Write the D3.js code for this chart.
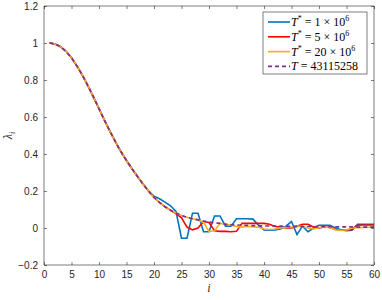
<html>
<script src='https://d3js.org/d3.v7.min.js'></script>
<style>
  body { margin: 0; background: #fff; }
  text { font-family: 'Liberation Sans', Arial, sans-serif; }
</style>
<body onload='init()'>
<svg width=382 height=300></svg>
<script>
// index i = 1..60
const idx = d3.range(1, 61);

// common decay part (T = 43115258, dashed)
const lamRef = [1.000,0.995,0.980,0.955,0.920,0.875,0.825,0.768,0.708,0.645,
  0.582,0.522,0.465,0.412,0.365,0.320,0.278,0.238,0.200,0.165,
  0.138,0.115,0.096,0.081,0.068,0.058,0.050,0.044,0.038,0.032,
  0.028,0.025,0.021,0.018,0.016,0.015,0.014,0.013,0.012,0.011,
  0.011,0.010,0.010,0.009,0.009,0.009,0.008,0.008,0.008,0.007,
  0.007,0.007,0.006,0.006,0.006,0.006,0.005,0.005,0.005,0.005];

const lam1 = [1.000,0.995,0.980,0.955,0.920,0.875,0.825,0.768,0.708,0.645,
  0.582,0.522,0.465,0.412,0.365,0.320,0.278,0.238,0.200,0.172,
  0.158,0.140,0.120,0.090,-0.055,-0.055,0.080,0.080,-0.020,-0.020,
  0.065,0.065,0.010,0.010,0.050,0.050,0.050,0.048,0.015,-0.010,
  -0.012,-0.010,-0.005,0.010,0.035,-0.035,0.010,-0.020,0.000,0.015,
  0.015,0.015,0.000,-0.010,-0.015,-0.012,0.020,0.020,0.020,0.020];

const lam5 = [1.000,0.995,0.980,0.955,0.920,0.875,0.825,0.768,0.708,0.645,
  0.582,0.522,0.465,0.412,0.365,0.320,0.278,0.238,0.200,0.165,
  0.138,0.115,0.096,0.078,0.055,0.005,-0.010,0.000,0.035,0.030,
  -0.015,-0.018,-0.018,-0.020,-0.018,0.025,0.025,0.025,0.025,0.025,
  0.020,0.008,0.005,0.000,0.000,0.010,0.020,0.020,0.005,0.000,
  0.005,0.003,-0.008,-0.010,-0.010,-0.008,0.015,0.016,0.016,0.016];

const lam20 = [1.000,0.995,0.980,0.955,0.920,0.875,0.825,0.768,0.708,0.645,
  0.582,0.522,0.465,0.412,0.365,0.320,0.278,0.238,0.200,0.165,
  0.138,0.115,0.096,0.081,0.068,0.058,0.050,0.044,0.030,-0.018,
  -0.015,0.025,0.022,0.015,0.008,0.005,0.008,0.006,0.004,-0.005,
  -0.008,-0.005,0.000,0.003,0.005,0.010,0.008,0.000,-0.005,0.003,
  0.005,0.002,-0.010,-0.012,-0.010,0.000,0.002,0.003,0.004,0.004];

const xTicks = d3.range(0, 61, 5);
const yTicks = [-0.2, 0, 0.2, 0.4, 0.6, 0.8, 1, 1.2];

const seriesColors = ['#0072BD', '#FF0000', '#EDB120', '#7E2F8E'];

function init() {
  const svg = d3.select('svg');
  const L = 44, R = 374, T = 6, B = 265;
  const x = d3.scaleLinear().domain([0, 60]).range([L, R]);
  const y = d3.scaleLinear().domain([-0.2, 1.2]).range([B, T]);
  const axisCol = '#262626';

  const series = [lam1, lam5, lam20, lamRef];
  const line = d3.line().x((d, i) => x(idx[i])).y(d => y(d));

  series.forEach((s, k) => {
    svg.append('path')
      .attr('d', line(s))
      .attr('fill', 'none')
      .attr('stroke', seriesColors[k])
      .attr('stroke-width', 1.6)
      .attr('stroke-dasharray', k === 3 ? '4,3' : null);
  });

  // axes (MATLAB box style, ticks inward)
  const gx = svg.append('g').attr('transform', `translate(0,${B})`)
    .call(d3.axisBottom(x).tickValues(xTicks).tickSize(-3).tickPadding(6));
  const gy = svg.append('g').attr('transform', `translate(${L},0)`)
    .call(d3.axisLeft(y).tickValues(yTicks).tickSize(-3).tickPadding(6).tickFormat(d3.format('~g')));
  const gt = svg.append('g').attr('transform', `translate(0,${T})`)
    .call(d3.axisTop(x).tickValues(xTicks).tickSize(-3).tickFormat(''));
  const gr = svg.append('g').attr('transform', `translate(${R},0)`)
    .call(d3.axisRight(y).tickValues(yTicks).tickSize(-3).tickFormat(''));
  [gx, gy, gt, gr].forEach(g => {
    g.select('.domain').attr('stroke', axisCol).attr('stroke-width', 0.6);
    g.selectAll('.tick line').attr('stroke', axisCol).attr('stroke-width', 0.6);
    g.selectAll('.tick text').attr('fill', axisCol).style('font-size', '10px')
      .style('font-family', "'Liberation Sans', Arial, sans-serif");
  });
  gt.select('.domain').attr('d', `M${L},0H${R}`);
  gr.select('.domain').attr('d', `M0,${T}V${B}`);
  gx.select('.domain').attr('d', `M${L},0H${R}`);
  gy.select('.domain').attr('d', `M0,${T}V${B}`);

  // axis labels
  svg.append('text').attr('x', (L + R) / 2).attr('y', 292)
    .attr('text-anchor', 'middle')
    .style('font-family', "'Liberation Serif', serif").style('font-style', 'italic')
    .style('font-size', '12px').attr('fill', axisCol).text('i');
  const yl = svg.append('text')
    .attr('transform', `translate(12,${(T + B) / 2}) rotate(-90)`)
    .attr('text-anchor', 'middle')
    .style('font-family', "'Liberation Serif', serif").style('font-style', 'italic')
    .style('font-size', '12px').attr('fill', axisCol);
  yl.append('tspan').text('λ');
  yl.append('tspan').attr('dy', 3).style('font-size', '8px').text('i');

  // legend
  const lg = svg.append('g');
  lg.append('rect').attr('x', 263).attr('y', 12).attr('width', 104).attr('height', 62)
    .attr('fill', '#fff').attr('stroke', axisCol).attr('stroke-width', 0.6);
  const labels = [
    ['T', '*', ' = 1 × 10', '6'],
    ['T', '*', ' = 5 × 10', '6'],
    ['T', '*', ' = 20 × 10', '6'],
    ['T', '', ' = 43115258', '']
  ];
  labels.forEach((lab, k) => {
    const cy = 22 + k * 14.8;
    lg.append('line').attr('x1', 268).attr('x2', 290).attr('y1', cy).attr('y2', cy)
      .attr('stroke', seriesColors[k]).attr('stroke-width', 1.6)
      .attr('stroke-dasharray', k === 3 ? '4,3' : null);
    const t = lg.append('text').attr('x', 291).attr('y', cy + 4)
      .style('font-family', "'Liberation Serif', serif").style('font-size', '12px')
      .attr('fill', '#000');
    t.append('tspan').style('font-style', 'italic').text(lab[0]);
    if (lab[1]) t.append('tspan').attr('dy', -5).style('font-size', '8px').text(lab[1]);
    t.append('tspan').attr('dy', lab[1] ? 5 : 0).text(lab[2]);
    if (lab[3]) t.append('tspan').attr('dy', -5).style('font-size', '8px').text(lab[3]);
  });
}
</script>
</body>
</html>
